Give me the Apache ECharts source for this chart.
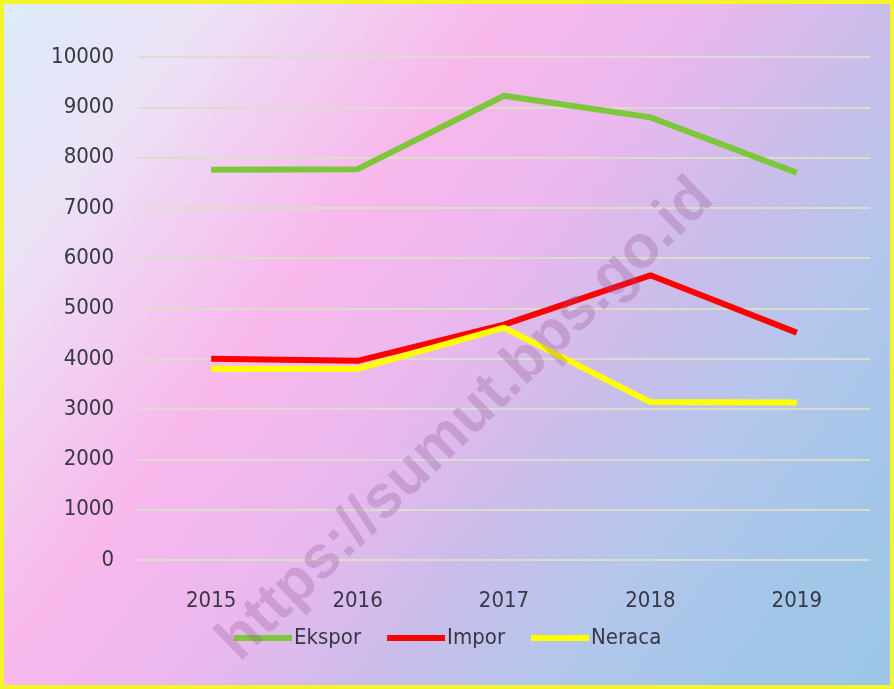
<!DOCTYPE html>
<html>
<head>
<meta charset="utf-8">
<script src="https://cdn.jsdelivr.net/npm/echarts@6/dist/echarts.min.js"></script>
<style>
  html, body { margin: 0; padding: 0; background: #fff; }
  #chart { width: 894px; height: 689px; }
</style>
</head>
<body>
<div id="chart"></div>
<script>
// data
const years = ['2015', '2016', '2017', '2018', '2019']
const ekspor = [7760, 7770, 9230, 8800, 7700]
const impor = [4000, 3960, 4680, 5660, 4520]
const neraca = [3800, 3800, 4620, 3140, 3130]
const seriesNames = ['Ekspor', 'Impor', 'Neraca']

const labelFont = '"DejaVu Sans Condensed", sans-serif'
const textColor = '#383844'

const chart = echarts.init(document.getElementById('chart'))

const makeLine = (name, data, color) => ({
    name: name,
    type: 'line',
    data: data,
    symbol: 'none',
    lineStyle: { color: color, width: 6 },
    itemStyle: { color: color }
})

const option = {
    animation: false,
    backgroundColor: {
        type: 'linear', x: 0, y: 0, x2: 1, y2: 1,
        colorStops: [
            { offset: 0, color: '#dcecfa' },
            { offset: 0.15, color: '#ece2f6' },
            { offset: 0.36, color: '#f8b8ec' },
            { offset: 0.5, color: '#eab8ee' },
            { offset: 0.62, color: '#ccbcea' },
            { offset: 0.75, color: '#b4c6ec' },
            { offset: 0.88, color: '#a2c6e8' },
            { offset: 1, color: '#9cc6e6' }
        ]
    },
    grid: { left: 138, right: 24, top: 57, bottom: 129 },
    legend: {
        data: seriesNames,
        left: 229,
        top: 622,
        icon: 'rect',
        itemWidth: 58,
        itemHeight: 6,
        itemGap: 26,
        textStyle: { fontSize: 22, color: textColor, fontFamily: labelFont, padding: [0, 0, 0, -3] }
    },
    xAxis: {
        type: 'category',
        data: years,
        boundaryGap: true,
        axisLine: { show: false },
        axisTick: { show: false },
        axisLabel: { fontSize: 22, color: textColor, fontFamily: labelFont, margin: 30 }
    },
    yAxis: {
        type: 'value',
        min: 0,
        max: 10000,
        interval: 1000,
        axisLine: { show: false },
        axisTick: { show: false },
        axisLabel: {
            fontSize: 22, color: textColor, fontFamily: labelFont, margin: 24,
            formatter: v => String(v)
        },
        splitLine: { lineStyle: { color: 'rgba(218,222,200,0.95)', width: 2 } }
    },
    graphic: [
        {
            type: 'text',
            x: 466, y: 420,
            rotation: 0.77,
            style: {
                text: 'https://sumut.bps.go.id',
                x: 0, y: 0,
                align: 'center',
                verticalAlign: 'middle',
                font: 'bold 60px "Liberation Sans", Arial, sans-serif',
                fill: 'rgba(140,80,140,0.27)'
            },
            z: 100
        },
        {
            type: 'rect',
            shape: { x: 0, y: 0, width: 894, height: 689 },
            style: { fill: 'none', stroke: '#f4f42a', lineWidth: 8 },
            z: 101
        }
    ],
    series: [
        makeLine('Ekspor', ekspor, '#7cc83a'),
        makeLine('Impor', impor, '#ff0000'),
        makeLine('Neraca', neraca, '#ffff00')
    ]
}

chart.setOption(option)
</script>
</body>
</html>
